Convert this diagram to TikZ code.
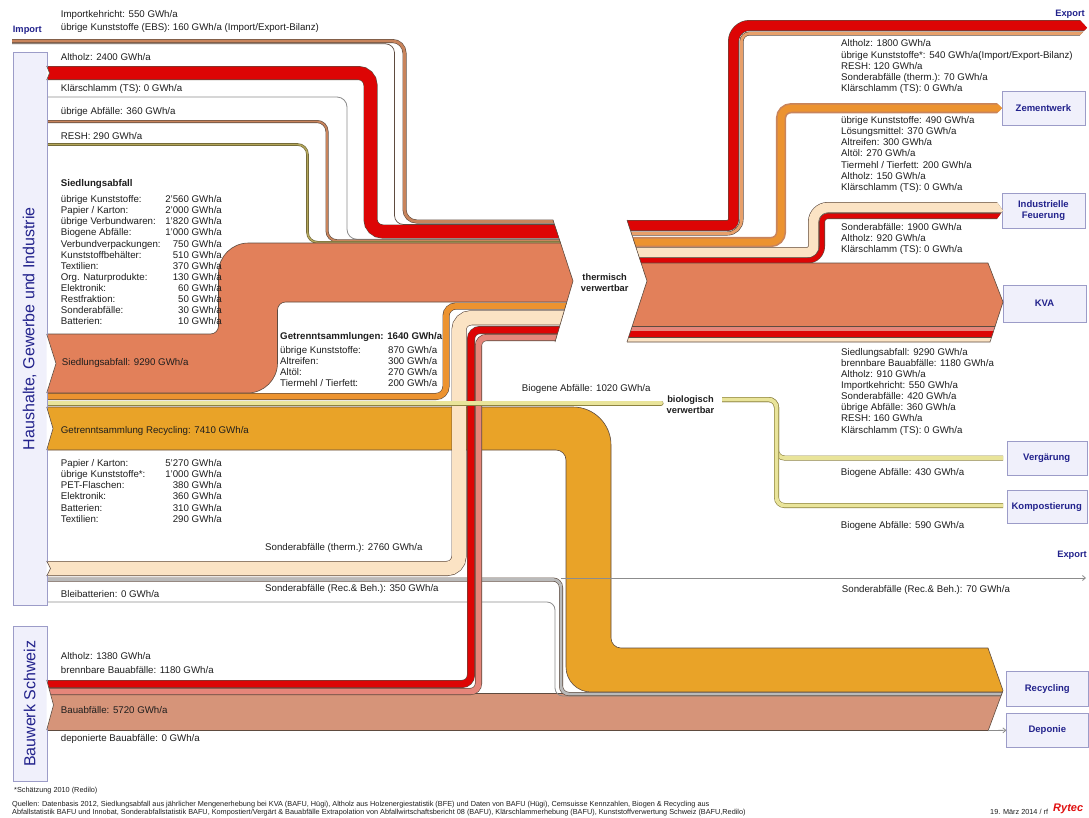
\documentclass[tikz,border=0pt]{standalone}
\usepackage{fontspec}
\setmainfont{Liberation Sans}
\usetikzlibrary{arrows.meta}

\definecolor{edge}{HTML}{5E4B3F}
\definecolor{txt}{HTML}{1E1E1E}
\definecolor{navy}{HTML}{22228C}
\definecolor{boxfill}{HTML}{F0F0FB}
\definecolor{boxline}{HTML}{9C9CC8}
\definecolor{redA}{HTML}{DD0505}
\definecolor{brownK}{HTML}{C8845C}
\definecolor{salmon}{HTML}{E2805A}
\definecolor{orangeR}{HTML}{E9A328}
\definecolor{orangeG}{HTML}{EC9330}
\definecolor{beige}{HTML}{FBE3C4}
\definecolor{pinkB}{HTML}{E5867A}
\definecolor{bauS}{HTML}{D69479}
\definecolor{bioY}{HTML}{E9E49A}
\definecolor{bioE}{HTML}{8C8240}
\definecolor{resh}{HTML}{B4A65A}
\definecolor{strip}{HTML}{E8A06A}
\definecolor{greyL}{HTML}{8C8C8C}
\definecolor{logo}{HTML}{E01010}

\begin{document}
\begin{tikzpicture}[x=1pt, y=-1pt,
    lbl/.style={font=\fontsize{9.7}{11.1}\selectfont, text=txt, inner sep=0pt, anchor=west},
    lst/.style={lbl, anchor=north west},
    head/.style={lbl, font=\bfseries\fontsize{9.7}{11.1}\selectfont},
    foot/.style={font=\fontsize{7.3}{8}\selectfont, text=txt, inner sep=0pt},
    srcbox/.style={draw=boxline, fill=boxfill, text=navy, inner sep=0pt, rotate=90,
        font=\fontsize{16}{16}\selectfont},
    sinkbox/.style={draw=boxline, fill=boxfill, text=navy, inner sep=0pt, align=center,
        font=\bfseries\fontsize{9.5}{11}\selectfont},
    tag/.style={text=navy, inner sep=0pt, font=\bfseries\fontsize{9.3}{11}\selectfont},
    hub/.style={text=txt, inner sep=0pt, align=center, font=\bfseries\fontsize{9.3}{11}\selectfont},
    band/.style={draw=edge, line width=0.6pt, double distance=#1},
    wire/.style={draw=#1, line width=0.8pt},
    notch/.style={draw=edge, line width=0.6pt, fill=white}
]
\useasboundingbox (0,0) rectangle (1089,817);
\fill[white] (0,0) rectangle (1089,817);

% Define sinks
\node[sinkbox, minimum width=83.3pt, minimum height=34pt] (zem) at (1043.4,108.2) {Zementwerk};
\node[sinkbox, minimum width=83.3pt, minimum height=35pt] (ind) at (1043.4,210.8) {Industrielle\\Feuerung};
\node[sinkbox, minimum width=83pt, minimum height=37pt] (kva) at (1044.5,303.5) {KVA};
\node[sinkbox, minimum width=80pt, minimum height=33.3pt] (verg) at (1046.7,458.3) {Vergärung};
\node[sinkbox, minimum width=80pt, minimum height=33.3pt] (komp) at (1046.7,506.7) {Kompostierung};
\node[sinkbox, minimum width=81.3pt, minimum height=34.3pt] (recy) at (1047.3,688.8) {Recycling};
\node[sinkbox, minimum width=81.3pt, minimum height=34pt] (depo) at (1047.3,730.3) {Deponie};

% Recycling flows
\begin{scope}
  \clip (0,380) -- (988,380) -- (988,648) -- (1003,690.5) -- (988,731) -- (0,731) -- cycle;
  \filldraw[fill=orangeR, draw=edge, line width=0.6pt]
    (40,407) [rounded corners=38] -- (611,407) [rounded corners=10] -- (611,648)
    [sharp corners] -- (1010,648) -- (1010,692) [rounded corners=25] -- (566,692)
    [rounded corners=10] -- (566,450) [sharp corners] -- (40,450) -- cycle;
  \filldraw[fill=bauS, draw=edge, line width=0.6pt] (40,693) rectangle (1010,730.5);
  \draw[wire=greyL, rounded corners=8] (40,602) -- (555,602) -- (555,696) -- (1010,696);
  \draw[band=2.8pt, double=greyL!60, rounded corners=8] (40,579.5) -- (561,579.5) -- (561,694) -- (1010,694);
\end{scope}

% Thermal flows, left
\begin{scope}
  \clip (0,0) -- (553,0) -- (553,220) -- (573,281) -- (555,342) -- (555,817) -- (0,817) -- cycle;
  \draw[band=2.8pt, double=brownK, rounded corners=12] (12,41) -- (404.5,41) -- (404.5,221.5) -- (600,221.5);
  \draw[wire=edge, line width=0.7pt, rounded corners=9] (12,43.8) -- (394.5,43.8) -- (394.5,224.5) -- (600,224.5);
  \draw[band=12.8pt, double=redA, rounded corners=12] (40,73) -- (370.5,73) -- (370.5,231.5) -- (600,231.5);
  \draw[wire=greyL, rounded corners=10] (40,97) -- (347,97) -- (347,239.3) -- (600,239.3);
  \draw[band=1.8pt, double=brownK, rounded corners=10] (40,121.5) -- (327,121.5) -- (327,240.8) -- (600,240.8);
  \draw[band=1.4pt, double=resh, draw=resh!60!black, rounded corners=10] (40,144.5) -- (307.5,144.5) -- (307.5,242.3) -- (600,242.3);
  \filldraw[fill=salmon, draw=edge, line width=0.6pt]
    (40,334) [rounded corners=8] -- (218.5,334) [rounded corners=30] -- (218.5,243)
    [sharp corners] -- (600,243) -- (600,302) [rounded corners=8] -- (277.5,302)
    [rounded corners=30] -- (277.5,393) [sharp corners] -- (40,393) -- cycle;
  \draw[band=5.8pt, double=orangeG, rounded corners=10] (40,396.5) -- (446,396.5) -- (446,306) -- (600,306);
  \draw[band=13.8pt, double=beige, rounded corners=12] (40,568.5) -- (459,568.5) -- (459,317.8) -- (600,317.8);
  \draw[band=6.8pt, double=redA, rounded corners=9] (40,684) -- (471,684) -- (471,330) -- (600,330);
  \draw[band=5.8pt, double=pinkB, rounded corners=8] (40,691.5) -- (478.5,691.5) -- (478.5,337.5) -- (600,337.5);
\end{scope}
\draw[edge, line width=0.6pt] (553,220) -- (573,281) -- (555,342);

% Thermal flows, right
\begin{scope}
  \clip (627,0) -- (1078,0) -- (1078,18) -- (1087,27.7) -- (1078,37.4) -- (1078,45) -- (994,45)
    -- (994,100) -- (1002,108.2) -- (994,116.4) -- (994,198) -- (1003,210.5) -- (994,223)
    -- (994,265) -- (641.8,265) -- (627,220) -- cycle;
  \draw[band=2.8pt, double=strip] (620,233.5) [rounded corners=14] -- (741.5,233.5)
    [rounded corners=8] -- (741.5,33.5) [sharp corners] -- (1095,33.5);
  \draw[band=9.8pt, double=redA] (620,225.5) [rounded corners=6] -- (733.5,225.5)
    [rounded corners=16] -- (733.5,25.5) [sharp corners] -- (1095,25.5);
  \draw[band=7pt, double=orangeG, draw=brownK, line width=1.6pt, rounded corners=10]
    (620,242) -- (781,242) -- (781,108.2) -- (1010,108.2);
  \draw[band=9.8pt, double=beige] (620,252.5) [rounded corners=6] -- (813.5,252.5)
    [rounded corners=14.5] -- (813.5,207.5) [sharp corners] -- (1010,207.5);
  \draw[band=4.8pt, double=redA] (620,260.5) [rounded corners=14.3] -- (822,260.5)
    [rounded corners=6] -- (822,216) [sharp corners] -- (1010,216);
\end{scope}
\begin{scope}
  \clip (641.1,263) -- (988,263) -- (1003,302) -- (990,342) -- (627,342) -- (647,281) -- cycle;
  \fill[salmon] (620,262) rectangle (1010,326.5);
  \fill[pinkB] (620,326.5) rectangle (1010,330.5);
  \fill[redA] (620,330.5) rectangle (1010,337);
  \fill[beige] (620,337) rectangle (1010,343);
  \draw[edge, line width=0.5pt] (620,326.5) -- (1010,326.5) (620,337) -- (1010,337);
\end{scope}
\draw[edge, line width=0.6pt] (627,342) -- (990,342) -- (1003,302) -- (988,263) -- (641.1,263);
\draw[edge, line width=0.6pt] (627,220) -- (647,281) -- (627,342);
\draw[edge, line width=0.6pt] (988,648) -- (1003,690.5) -- (988,731);

% Biological flows
\draw[band=3.8pt, double=bioY, draw=bioE, line cap=round] (40,403) -- (661,403);
\draw[band=3.8pt, double=bioY, draw=bioE, rounded corners=8] (722,399.5) -- (776.5,399.5) -- (776.5,458) -- (1003,458);
\draw[band=3.8pt, double=bioY, draw=bioE, rounded corners=8] (722,399.5) -- (776.5,399.5) -- (776.5,505.5) -- (1003,505.5);

% Thin flows
\draw[wire=greyL, -{Straight Barb[length=3pt,width=5pt]}] (561,578) -- (1086,578);
\draw[wire=greyL, -{Straight Barb[length=3pt,width=5pt]}] (988,730.5) -- (depo.west);

% Define sources
\node[srcbox, minimum width=552.7pt, minimum height=34pt] (hgi) at (29.7,328.7) {Haushalte, Gewerbe und Industrie};
\node[srcbox, minimum width=154.3pt, minimum height=34pt] (bws) at (29.7,703.8) {Bauwerk Schweiz};
\draw[notch] (46.7,66) -- (49.5,73) -- (46.7,80);
\draw[notch] (46.7,334) -- (56,363.5) -- (46.7,393);
\draw[notch] (46.7,407) -- (53,428.5) -- (46.7,450);
\draw[notch] (46.7,561) -- (50.5,568.5) -- (46.7,576);
\draw[notch] (46.7,680) -- (53.5,705) -- (46.7,730);

% Labels, left
\node[tag, anchor=west] (imp) at (12.7,30) {Import};
\node[lbl] (impk) at (60.7,15) {Importkehricht: 550 GWh/a};
\node[lbl] (ebs) at (60.7,28.3) {übrige Kunststoffe (EBS): 160 GWh/a (Import/Export-Bilanz)};
\node[lbl] (ah1) at (60.7,56.7) {Altholz: 2400 GWh/a};
\node[lbl] (ks1) at (60.7,89.3) {Klärschlamm (TS): 0 GWh/a};
\node[lbl] (ua1) at (60.7,111.7) {übrige Abfälle: 360 GWh/a};
\node[lbl] (resh1) at (60.7,136) {RESH: 290 GWh/a};
\node[head] (sa) at (60.7,184) {Siedlungsabfall};
\node[lst] (salist) at (60.7,194.7) {\begin{tabular*}{161pt}{@{}l@{\extracolsep{\fill}}r@{}}
  übrige Kunststoffe: & 2'560 GWh/a\\
  Papier / Karton: & 2'000 GWh/a\\
  übrige Verbundwaren: & 1'820 GWh/a\\
  Biogene Abfälle: & 1'000 GWh/a\\
  Verbundverpackungen: & 750 GWh/a\\
  Kunststoffbehälter: & 510 GWh/a\\
  Textilien: & 370 GWh/a\\
  Org. Naturprodukte: & 130 GWh/a\\
  Elektronik: & 60 GWh/a\\
  Restfraktion: & 50 GWh/a\\
  Sonderabfälle: & 30 GWh/a\\
  Batterien: & 10 GWh/a
\end{tabular*}};
\node[lbl] (satot) at (61.7,362.7) {Siedlungsabfall: 9290 GWh/a};
\node[head] (gs) at (280,337) {Getrenntsammlungen: 1640 GWh/a};
\node[lst] (gslist) at (280,345.7) {\begin{tabular*}{157pt}{@{}l@{\extracolsep{\fill}}r@{}}
  übrige Kunststoffe: & 870 GWh/a\\
  Altreifen: & 300 GWh/a\\
  Altöl: & 270 GWh/a\\
  Tiermehl / Tierfett: & 200 GWh/a
\end{tabular*}};
\node[lbl] (gsr) at (60.7,431) {Getrenntsammlung Recycling: 7410 GWh/a};
\node[lst] (gsrlist) at (60.7,458.7) {\begin{tabular*}{161pt}{@{}l@{\extracolsep{\fill}}r@{}}
  Papier / Karton: & 5'270 GWh/a\\
  übrige Kunststoffe*: & 1'000 GWh/a\\
  PET-Flaschen: & 380 GWh/a\\
  Elektronik: & 360 GWh/a\\
  Batterien: & 310 GWh/a\\
  Textilien: & 290 GWh/a
\end{tabular*}};
\node[lbl] (sat) at (265,548) {Sonderabfälle (therm.): 2760 GWh/a};
\node[lbl] (sar) at (265,589) {Sonderabfälle (Rec.\& Beh.): 350 GWh/a};
\node[lbl] (bleib) at (60.7,594) {Bleibatterien: 0 GWh/a};
\node[lbl] (ah2) at (60.7,656) {Altholz: 1380 GWh/a};
\node[lbl] (bb1) at (60.7,670) {brennbare Bauabfälle: 1180 GWh/a};
\node[lbl] (bau) at (60.7,710) {Bauabfälle: 5720 GWh/a};
\node[lbl] (dep) at (60.7,739) {deponierte Bauabfälle: 0 GWh/a};

% Labels, right
\node[tag, anchor=east] (exp1) at (1085,14) {Export};
\node[lst] (explist) at (841,39) {\begin{tabular}{@{}l@{}}
  Altholz: 1800 GWh/a\\
  übrige Kunststoffe*: 540 GWh/a(Import/Export-Bilanz)\\
  RESH: 120 GWh/a\\
  Sonderabfälle (therm.): 70 GWh/a\\
  Klärschlamm (TS): 0 GWh/a
\end{tabular}};
\node[lst] (zemlist) at (841,115.7) {\begin{tabular}{@{}l@{}}
  übrige Kunststoffe: 490 GWh/a\\
  Lösungsmittel: 370 GWh/a\\
  Altreifen: 300 GWh/a\\
  Altöl: 270 GWh/a\\
  Tiermehl / Tierfett: 200 GWh/a\\
  Altholz: 150 GWh/a\\
  Klärschlamm (TS): 0 GWh/a
\end{tabular}};
\node[lst] (indlist) at (841,222.4) {\begin{tabular}{@{}l@{}}
  Sonderabfälle: 1900 GWh/a\\
  Altholz: 920 GWh/a\\
  Klärschlamm (TS): 0 GWh/a
\end{tabular}};
\node[lst] (kvalist) at (841,347.4) {\begin{tabular}{@{}l@{}}
  Siedlungsabfall: 9290 GWh/a\\
  brennbare Bauabfälle: 1180 GWh/a\\
  Altholz: 910 GWh/a\\
  Importkehricht: 550 GWh/a\\
  Sonderabfälle: 420 GWh/a\\
  übrige Abfälle: 360 GWh/a\\
  RESH: 160 GWh/a\\
  Klärschlamm (TS): 0 GWh/a
\end{tabular}};
\node[hub] (therm) at (604.7,283) {thermisch\\verwertbar};
\node[lbl] (bio) at (521.7,389) {Biogene Abfälle: 1020 GWh/a};
\node[hub] (biol) at (690.5,405) {biologisch\\verwertbar};
\node[lbl] (bio430) at (840.7,472.7) {Biogene Abfälle: 430 GWh/a};
\node[lbl] (bio590) at (840.7,526) {Biogene Abfälle: 590 GWh/a};
\node[tag, anchor=east] (exp2) at (1087,555) {Export};
\node[lbl] (sar70) at (841.7,590) {Sonderabfälle (Rec.\& Beh.): 70 GWh/a};

% Footer
\node[foot, anchor=west] (note) at (14,791) {*Schätzung 2010 (Redilo)};
\node[foot, anchor=north west, align=left] (src) at (12,801) {Quellen: Datenbasis 2012, Siedlungsabfall aus jährlicher Mengenerhebung bei KVA (BAFU, Hügi), Altholz aus Holzenergiestatistik (BFE) und Daten von BAFU (Hügi), Cemsuisse Kennzahlen, Biogen \& Recycling aus\\Abfallstatistik BAFU und Innobat, Sonderabfallstatistik BAFU, Kompostiert/Vergärt \& Bauabfälle Extrapolation von Abfallwirtschaftsbericht 08 (BAFU), Klärschlammerhebung (BAFU), Kunststoffverwertung Schweiz (BAFU,Redilo)};
\node[foot, anchor=west] (date) at (990,812) {19. März 2014 / rf};
\node[anchor=west, inner sep=0pt, text=logo, font=\bfseries\itshape\fontsize{11}{11}\selectfont] (logo) at (1053,809) {Rytec};

\end{tikzpicture}
\end{document}
